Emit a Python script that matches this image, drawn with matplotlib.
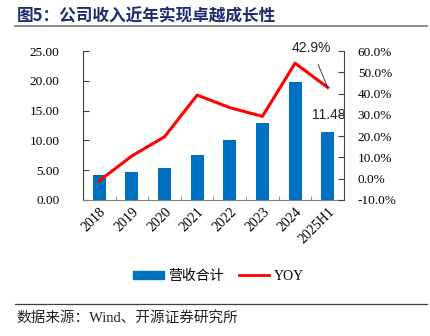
import matplotlib
matplotlib.use("Agg")
import matplotlib.pyplot as plt
from matplotlib.lines import Line2D
from matplotlib.patches import Patch

# data
years = ["2018", "2019", "2020", "2021", "2022", "2023", "2024", "2025H1"]
revenue = [4.20, 4.65, 5.40, 7.50, 10.05, 12.90, 19.80, 11.48]
yoy = [-1.0, 10.7, 19.7, 39.3, 33.4, 29.3, 54.3, 42.9]

left_ticks = [0, 5, 10, 15, 20, 25]
right_ticks = [-10, 0, 10, 20, 30, 40, 50, 60]

BLUE = "#0070C0"
RED = "#FF0000"
NAVY = "#1F2C6E"
SERIF = ["Liberation Serif", "Noto Sans CJK SC"]
CJK = ["Noto Sans CJK SC", "DejaVu Sans"]

fig = plt.figure(figsize=(4.31, 3.36), dpi=100)
ax = fig.add_axes([0.1926, 0.405, 0.6055, 0.443])

x = list(range(len(years)))
ax.bar(x, revenue, width=0.4, color=BLUE, zorder=2)
ax.set_xlim(-0.5, len(years) - 0.5)
ax.set_ylim(0, 25)
ax.set_yticks(left_ticks)
ax.set_yticklabels([f"{v:.2f}" for v in left_ticks], family=SERIF, fontsize=9.5)
ax.set_xticks(x)
ax.set_xticklabels(years, rotation=45, ha="right", rotation_mode="anchor",
                   family=SERIF, fontsize=10)
ax.tick_params(axis="x", length=0, pad=4)
ax.set_xticks([i + 0.5 for i in x[:-1]], minor=True)
ax.tick_params(axis="x", which="minor", direction="in", length=3, color="#808080")
ax.tick_params(axis="y", direction="in", length=4, color="#404040", pad=17)
ax.spines["top"].set_visible(False)
ax.spines["left"].set_color("#404040")
ax.spines["bottom"].set_color("#808080")
ax.spines["right"].set_visible(False)

ax2 = ax.twinx()
ax2.plot(x, yoy, color=RED, linewidth=2.2, zorder=3)
ax2.set_ylim(-10, 60)
ax2.set_yticks(right_ticks)
ax2.set_yticklabels([f"{v:.1f}%" for v in right_ticks], family=SERIF, fontsize=9.5)
ax2.tick_params(axis="y", direction="in", length=4, color="#404040", pad=10)
for s in ["top", "left", "bottom"]:
    ax2.spines[s].set_visible(False)
ax2.spines["right"].set_color("#404040")

# value annotations
ax2.annotate(f"{yoy[-1]:.1f}%", xy=(x[-1], yoy[-1]), xytext=(x[-1] - 0.5, 61.3),
             ha="center", va="center", fontsize=10, family="Liberation Sans",
             color="#222222",
             arrowprops=dict(arrowstyle="-", color="#222222", lw=0.6,
                             shrinkA=5, shrinkB=0))
ax.text(x[-1] + 0.02, 14.2, f"{revenue[-1]:.2f}", ha="center", va="center",
        fontsize=10, family="Liberation Sans", color="#222222", zorder=4)

# legend
handles = [Patch(color=BLUE), Line2D([], [], color=RED, lw=2)]
leg = fig.legend(handles, ["营收合计", "YOY"], loc="center",
                 bbox_to_anchor=(0.507, 0.178), ncol=2, frameon=False,
                 handlelength=2.2, handleheight=0.55, columnspacing=1.1,
                 handletextpad=0.3, prop={"family": SERIF, "size": 10})

# title, rules and source
fig.text(0.039, 0.952, "图5：公司收入近年实现卓越成长性", family=CJK,
         fontsize=12, fontweight="bold", color=NAVY, va="center")
fig.add_artist(Line2D([0.035, 0.991], [0.922, 0.922], color="#8C8C8C", lw=1.4))
fig.add_artist(Line2D([0.035, 0.991], [0.095, 0.095], color="#404040", lw=0.9))
fig.text(0.037, 0.055, "数据来源：Wind、开源证券研究所", family=SERIF,
         fontsize=10.5, color="#222222", va="center")

fig.savefig("out.png", dpi=100)
